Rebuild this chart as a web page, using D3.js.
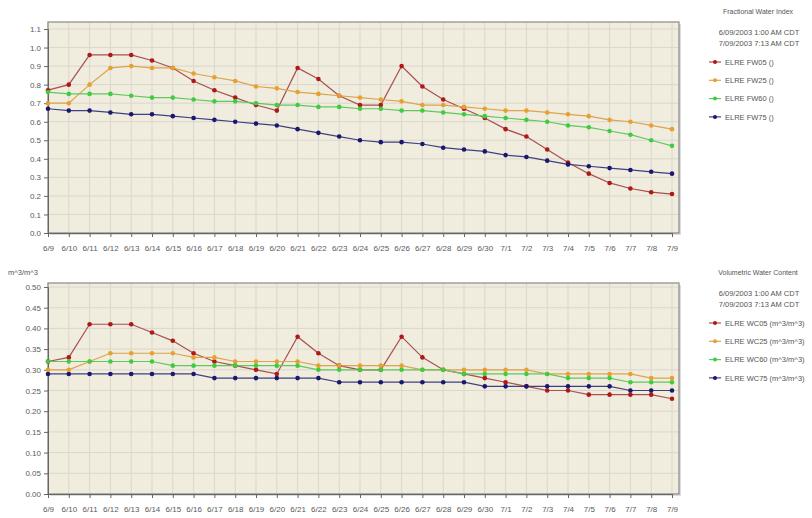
<!DOCTYPE html>
<html><head><meta charset="utf-8">
<script src="https://cdn.jsdelivr.net/npm/d3@7"></script>
<style>
body{margin:0;background:#fff;}
text{font-family:"Liberation Sans",Arial,sans-serif;}
</style></head>
<body><svg id="c" width="812" height="518"></svg>
<script>
const dates = ["6/9","6/10","6/11","6/12","6/13","6/14","6/15","6/16","6/17","6/18","6/19","6/20","6/21","6/22","6/23","6/24","6/25","6/26","6/27","6/28","6/29","6/30","7/1","7/2","7/3","7/4","7/5","7/6","7/7","7/8","7/9"];

const fw05 = [0.77,0.80,0.96,0.96,0.96,0.93,0.89,0.82,0.77,0.73,0.69,0.66,0.89,0.83,0.74,0.69,0.69,0.90,0.79,0.72,0.67,0.62,0.56,0.52,0.45,0.38,0.32,0.27,0.24,0.22,0.21];
const fw25 = [0.70,0.70,0.80,0.89,0.90,0.89,0.89,0.86,0.84,0.82,0.79,0.78,0.76,0.75,0.74,0.73,0.72,0.71,0.69,0.69,0.68,0.67,0.66,0.66,0.65,0.64,0.63,0.61,0.60,0.58,0.56];
const fw60 = [0.76,0.75,0.75,0.75,0.74,0.73,0.73,0.72,0.71,0.71,0.70,0.69,0.69,0.68,0.68,0.67,0.67,0.66,0.66,0.65,0.64,0.63,0.62,0.61,0.60,0.58,0.57,0.55,0.53,0.50,0.47];
const fw75 = [0.67,0.66,0.66,0.65,0.64,0.64,0.63,0.62,0.61,0.60,0.59,0.58,0.56,0.54,0.52,0.50,0.49,0.49,0.48,0.46,0.45,0.44,0.42,0.41,0.39,0.37,0.36,0.35,0.34,0.33,0.32];

const wc05 = [0.32,0.33,0.41,0.41,0.41,0.39,0.37,0.34,0.32,0.31,0.30,0.29,0.38,0.34,0.31,0.30,0.30,0.38,0.33,0.30,0.29,0.28,0.27,0.26,0.25,0.25,0.24,0.24,0.24,0.24,0.23];
const wc25 = [0.30,0.30,0.32,0.34,0.34,0.34,0.34,0.33,0.33,0.32,0.32,0.32,0.32,0.31,0.31,0.31,0.31,0.31,0.30,0.30,0.30,0.30,0.30,0.30,0.29,0.29,0.29,0.29,0.29,0.28,0.28];
const wc60 = [0.32,0.32,0.32,0.32,0.32,0.32,0.31,0.31,0.31,0.31,0.31,0.31,0.31,0.30,0.30,0.30,0.30,0.30,0.30,0.30,0.29,0.29,0.29,0.29,0.29,0.28,0.28,0.28,0.27,0.27,0.27];
const wc75 = [0.29,0.29,0.29,0.29,0.29,0.29,0.29,0.29,0.28,0.28,0.28,0.28,0.28,0.28,0.27,0.27,0.27,0.27,0.27,0.27,0.27,0.26,0.26,0.26,0.26,0.26,0.26,0.26,0.25,0.25,0.25];

const fwNames = ["ELRE FW05 ()","ELRE FW25 ()","ELRE FW60 ()","ELRE FW75 ()"];
const wcNames = ["ELRE WC05 (m^3/m^3)","ELRE WC25 (m^3/m^3)","ELRE WC60 (m^3/m^3)","ELRE WC75 (m^3/m^3)"];
const fwTicks = [0,0.1,0.2,0.3,0.4,0.5,0.6,0.7,0.8,0.9,1.0,1.1];
const wcTicks = [0,0.05,0.10,0.15,0.20,0.25,0.30,0.35,0.40,0.45,0.50];
const dateRange = ["6/09/2003 1:00 AM CDT","7/09/2003 7:13 AM CDT"];

const lineColors = ["#a85050","#dca450","#60c860","#404080"];
const dotColors  = ["#b01818","#e8a030","#40cc40","#18186e"];

const svg = d3.select("#c");

function panel(opt){
  const g = svg.append("g").attr("transform",`translate(0,${opt.dy})`);
  const x = d3.scalePoint().domain(dates).range([48,672]);
  const y = d3.scaleLinear().domain([0,opt.max]).range([233,opt.topTick]);
  const left=48,right=679,top=22,bottom=233;
  g.append("rect").attr("x",left+2).attr("y",top+2).attr("width",right-left).attr("height",bottom-top).attr("fill","#dcdcdc");
  g.append("rect").attr("x",left).attr("y",top).attr("width",right-left).attr("height",bottom-top).attr("fill","#f0ecde");
  g.selectAll(".hg").data(opt.ticks).join("line").attr("x1",left).attr("x2",right)
    .attr("y1",d=>y(d)).attr("y2",d=>y(d)).attr("stroke","#dad7cc").attr("stroke-width",1);
  g.selectAll(".vg").data(dates).join("line").attr("y1",top).attr("y2",bottom)
    .attr("x1",d=>x(d)).attr("x2",d=>x(d)).attr("stroke","#dad7cc").attr("stroke-width",1);
  g.append("rect").attr("x",left).attr("y",top).attr("width",right-left).attr("height",bottom-top)
    .attr("fill","none").attr("stroke","#8a8a8a").attr("stroke-width",1.2);
  const ya = g.append("g").attr("transform",`translate(${left},0)`)
    .call(d3.axisLeft(y).tickValues(opt.ticks).tickFormat(d3.format(opt.fmt)).tickSize(4).tickPadding(3));
  ya.select(".domain").attr("stroke","#666");
  ya.selectAll(".tick line").attr("stroke","#666");
  ya.selectAll("text").attr("fill","#5a5a5a").style("font-size","8px");
  const xa = g.append("g").attr("transform",`translate(0,${bottom})`)
    .call(d3.axisBottom(x).tickSize(4).tickPadding(8));
  xa.select(".domain").attr("stroke","#666");
  xa.selectAll(".tick line").attr("stroke","#666");
  xa.selectAll("text").attr("fill","#5a5a5a").style("font-size","8px");
  const line = d3.line().x((d,i)=>x(dates[i])).y(d=>y(d));
  opt.series.forEach((s,k)=>{
    g.append("path").datum(s).attr("d",line).attr("fill","none")
      .attr("stroke",lineColors[k]).attr("stroke-width",1.2);
  });
  opt.series.forEach((s,k)=>{
    g.selectAll(null).data(s).join("circle").attr("cx",(d,i)=>x(dates[i])).attr("cy",d=>y(d))
      .attr("r",2.3).attr("fill",dotColors[k]);
  });
  const lg = g.append("g");
  lg.append("text").attr("x",758).attr("y",14).attr("text-anchor","middle")
    .attr("fill","#555").style("font-size","7px").text(opt.title);
  dateRange.forEach((t,i)=>{
    lg.append("text").attr("x",759).attr("y",35+i*11).attr("text-anchor","middle")
      .attr("fill","#555").style("font-size","7.5px").text(t);
  });
  opt.names.forEach((n,i)=>{
    const yy = 62+i*18.3;
    lg.append("line").attr("x1",709).attr("x2",721).attr("y1",yy).attr("y2",yy)
      .attr("stroke",lineColors[i]).attr("stroke-width",1.2);
    lg.append("circle").attr("cx",715).attr("cy",yy).attr("r",2).attr("fill",dotColors[i]);
    lg.append("text").attr("x",725).attr("y",yy+2.6).attr("fill","#555").style("font-size","7.5px").text(n);
  });
  if(opt.unit){
    g.append("text").attr("x",8).attr("y",14).attr("fill","#555").style("font-size","7.5px").text(opt.unit);
  }
}

panel({dy:0,max:1.1,topTick:29,ticks:fwTicks,fmt:".1f",series:[fw05,fw25,fw60,fw75],names:fwNames,title:"Fractional Water Index"});
panel({dy:261,max:0.5,topTick:26,ticks:wcTicks,fmt:".2f",series:[wc05,wc25,wc60,wc75],names:wcNames,title:"Volumetric Water Content",unit:"m^3/m^3"});
</script></body></html>
